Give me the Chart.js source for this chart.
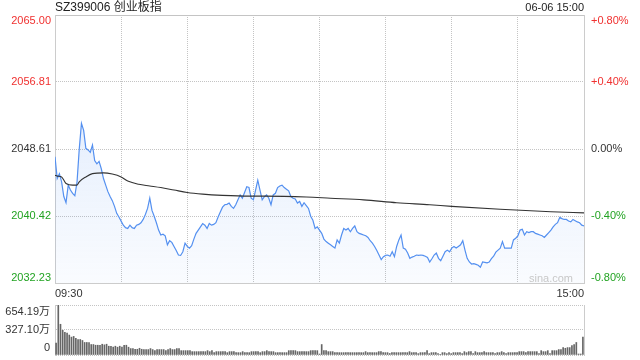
<!DOCTYPE html>
<html><head><meta charset="utf-8">
<script src="https://cdn.jsdelivr.net/npm/chart.js@4"></script>
<style>
html,body{margin:0;padding:0;background:#fff;}
#wrap{position:relative;width:640px;height:360px;overflow:hidden;}
canvas{position:absolute;left:0;}
#main{top:0;}
#vol{top:300px;}
</style></head><body>
<div id="wrap"><canvas id="main" width="640" height="300"></canvas><canvas id="vol" width="640" height="60"></canvas></div>
<script>
const titleText = 'SZ399006 创业板指';
const stampText = '06-06 15:00';
const watermark = 'sina.com';
const prevClose = 2048.61;
const priceTicks = [2032.23, 2040.42, 2048.61, 2056.81, 2065.00];
const pctLabels = ['-0.80%', '-0.40%', '0.00%', '+0.40%', '+0.80%'];
const timeTicks = [0, 30, 60, 90, 120, 150, 180, 210, 240];
const timeLabels = ['09:30', '10:00', '10:30', '11:00', '11:30', '13:30', '14:00', '14:30', '15:00'];

const prices = [
2047.67,2045.0,2045.6,2044.6,2042.8,2042.05,2044.2,2043.6,2043.2,2042.9,
2044.6,2048.6,2051.75,2050.9,2048.7,2048.5,2048.2,2049.1,2047.2,2046.8,
2047.1,2046.2,2045.0,2044.2,2043.4,2042.8,2042.3,2041.6,2040.75,2040.3,
2039.8,2039.3,2039.0,2038.9,2039.3,2039.0,2038.9,2039.3,2039.4,2039.6,
2040.0,2040.6,2041.35,2042.6,2041.1,2040.4,2039.6,2038.7,2038.1,2038.2,
2038.0,2036.9,2037.4,2037.2,2036.7,2036.2,2035.65,2035.6,2036.05,2037.1,
2036.7,2036.5,2036.8,2037.6,2038.3,2038.7,2039.1,2039.5,2039.3,2038.9,
2039.5,2039.3,2039.4,2039.6,2040.3,2040.9,2041.5,2041.8,2041.85,2042.0,
2041.6,2041.35,2041.8,2042.4,2043.0,2042.6,2043.3,2044.0,2043.9,2042.6,
2042.4,2043.6,2044.8,2043.6,2042.4,2042.8,2043.0,2042.6,2041.8,2043.0,
2043.2,2043.9,2044.1,2044.2,2043.9,2043.7,2043.5,2042.8,2042.6,2042.5,
2042.0,2042.2,2041.6,2042.05,2041.7,2041.35,2040.4,2039.9,2038.9,2039.1,
2038.7,2038.3,2037.6,2037.3,2037.1,2036.9,2036.7,2036.5,2037.5,2037.1,
2038.1,2038.9,2038.7,2038.9,2038.5,2038.9,2039.2,2038.5,2038.3,2038.2,
2038.1,2038.0,2037.8,2037.4,2037.1,2036.7,2036.2,2035.65,2035.1,2035.45,
2035.6,2035.65,2035.5,2036.05,2035.45,2036.7,2037.5,2038.1,2036.5,2036.35,
2035.9,2035.25,2035.4,2035.5,2035.65,2035.6,2035.65,2035.6,2035.5,2035.35,
2034.8,2035.2,2035.65,2035.9,2035.25,2034.95,2035.5,2036.05,2036.25,2036.05,
2036.5,2036.7,2036.5,2036.7,2036.9,2037.4,2036.25,2035.25,2034.8,2034.55,
2034.6,2034.5,2034.4,2034.15,2034.8,2034.75,2034.7,2034.8,2035.2,2035.5,
2036.0,2036.25,2036.5,2037.3,2036.5,2036.5,2036.5,2036.5,2037.5,2037.7,
2038.0,2038.7,2038.8,2038.1,2038.5,2038.4,2038.5,2038.5,2038.3,2038.2,
2038.1,2038.0,2037.8,2038.1,2038.4,2038.7,2039.1,2039.4,2039.6,2040.25,
2040.1,2040.0,2040.0,2039.8,2039.7,2040.0,2039.85,2039.7,2039.6,2039.3,
2039.2
];

const avgMinutes = [0,1,3,5,8,10,11,14,17,22,26,30,33,38,43,48,54,60,67,76,88,95,114,125,140,155,170,180,202,225,240];
const avgPrices = [2045.4,2045.3,2045.2,2044.4,2044.2,2044.2,2044.6,2045.2,2045.6,2045.7,2045.55,2045.2,2044.7,2044.3,2044.1,2043.9,2043.6,2043.3,2043.1,2042.95,2042.85,2042.85,2042.75,2042.6,2042.4,2042.05,2041.8,2041.6,2041.25,2040.95,2040.8];

const volumes = [
155,654.19,402,323,296,287,261,234,243,217,
203,203,190,164,164,164,137,137,128,128,
128,141,133,141,115,115,102,115,102,115,
102,128,128,102,84,84,75,75,88,75,
71,71,71,84,71,57,71,71,71,71,
57,71,84,71,71,84,84,57,57,57,
57,57,44,44,44,44,44,44,44,57,
44,57,31,44,44,44,44,44,31,44,
44,44,31,31,31,44,31,31,31,44,
44,44,44,31,44,44,57,44,44,44,
31,31,31,31,31,31,57,57,57,57,
44,44,44,44,44,44,57,57,57,57,
13,137,57,57,44,44,44,31,31,31,
31,31,31,31,31,31,31,31,31,31,
31,44,31,31,31,31,31,44,44,31,
31,31,20,31,31,31,31,31,31,31,
31,44,31,31,31,18,31,31,31,57,
18,31,31,31,18,8,31,31,18,31,
18,31,31,31,31,18,44,31,44,44,
18,44,31,31,31,44,31,31,31,31,
18,31,31,44,31,18,31,31,31,31,
31,44,44,44,31,44,44,44,44,44,
18,57,44,44,57,18,57,57,57,71,
71,97,88,97,97,124,137,164,13,13,
234
];
const volTicks = [0, 327.10, 654.19];
const volLabels = ['0', '327.10万', '654.19万'];

const FONT = "'Liberation Sans', 'Noto Sans CJK SC', Arial, sans-serif";
const UP = '#f0302f', DOWN = '#22a322', FLAT = '#333333';
const GRID = '#c4c4c4', FRAME = '#cccccc';
Chart.defaults.font.family = FONT;
Chart.defaults.font.size = 11;
Chart.defaults.color = '#333';

function edge(text, i, n) {
  if (i === 0) return [text, ''];
  if (i === n - 1) return ['', text];
  return text;
}
function tickColor(v) {
  if (Math.abs(v - prevClose) < 0.005) return FLAT;
  return v > prevClose ? UP : DOWN;
}
function noPad(s) { s.paddingTop = 0; s.paddingBottom = 0; }

const headerPlugin = {
  id: 'header',
  afterDraw(chart) {
    const { ctx, chartArea } = chart;
    ctx.save();
    ctx.textBaseline = 'middle';
    ctx.fillStyle = '#222';
    ctx.font = '12px ' + FONT;
    ctx.textAlign = 'left';
    ctx.fillText(titleText, chartArea.left, 8);
    ctx.font = '11px ' + FONT;
    ctx.textAlign = 'right';
    ctx.fillText(stampText, chartArea.right, 8);
    ctx.fillStyle = '#c8c8c8';
    ctx.font = '11px ' + FONT;
    ctx.fillText(watermark, chartArea.right - 11, chartArea.bottom - 4);
    ctx.restore();
  }
};

new Chart(document.getElementById('main'), {
  type: 'line',
  data: {
    datasets: [
      {
        label: 'avg',
        data: avgMinutes.map((m, k) => ({ x: m, y: avgPrices[k] })),
        borderColor: '#333',
        borderWidth: 1.1,
        pointRadius: 0,
        fill: false,
        cubicInterpolationMode: 'monotone',
        order: 1
      },
      {
        label: 'price',
        data: prices.map((p, i) => ({ x: i, y: p })),
        borderColor: '#5490f0',
        borderWidth: 1.2,
        pointRadius: 0,
        tension: 0,
        fill: 'start',
        backgroundColor: (c) => {
          const a = c.chart.chartArea;
          if (!a) return 'rgba(84,144,240,0.1)';
          const g = c.chart.ctx.createLinearGradient(0, a.top, 0, a.bottom);
          g.addColorStop(0, 'rgba(84,144,240,0.22)');
          g.addColorStop(1, 'rgba(84,144,240,0.03)');
          return g;
        },
        order: 2
      }
    ]
  },
  options: {
    responsive: false,
    animation: false,
    devicePixelRatio: 1,
    layout: { padding: { top: 15, left: 0, right: 0, bottom: 0 } },
    plugins: { legend: { display: false }, tooltip: { enabled: false } },
    scales: {
      x: {
        type: 'linear', min: 0, max: 240, offset: false,
        afterBuildTicks: s => { s.ticks = timeTicks.map(v => ({ value: v })); },
        afterFit: s => { s.height = 17; },
        grid: { color: GRID, drawTicks: false },
        border: { display: true, color: FRAME, dash: c => (c.index === 0 || c.index === timeTicks.length - 1) ? [] : [1, 1] },
        ticks: {
          align: 'inner', maxRotation: 0, autoSkip: false, padding: 4, color: '#333',
          callback: (v, i) => (i === 0 || i === timeTicks.length - 1) ? timeLabels[i] : ''
        }
      },
      y: {
        position: 'left', min: priceTicks[0], max: priceTicks[priceTicks.length - 1],
        afterBuildTicks: s => { s.ticks = priceTicks.map(v => ({ value: v })); },
        afterFit: s => { s.width = 55; noPad(s); },
        grid: { color: GRID, drawTicks: false },
        border: { display: true, color: FRAME, dash: c => (c.index === 0 || c.index === priceTicks.length - 1) ? [] : [1, 1] },
        ticks: {
          autoSkip: false, padding: 4, font: { size: 11, lineHeight: 1.0 },
          color: c => tickColor(priceTicks[c.index]),
          callback: (v, i) => edge(priceTicks[i].toFixed(2), i, priceTicks.length)
        }
      },
      y1: {
        position: 'right', min: priceTicks[0], max: priceTicks[priceTicks.length - 1],
        afterBuildTicks: s => { s.ticks = priceTicks.map(v => ({ value: v })); },
        afterFit: s => { s.width = 56; noPad(s); },
        grid: { display: false, drawTicks: false },
        border: { display: true, color: FRAME },
        ticks: {
          autoSkip: false, padding: 7, font: { size: 11, lineHeight: 1.0 },
          color: c => tickColor(priceTicks[c.index]),
          callback: (v, i) => edge(pctLabels[i], i, pctLabels.length)
        }
      }
    }
  },
  plugins: [headerPlugin]
});

new Chart(document.getElementById('vol'), {
  type: 'bar',
  data: {
    datasets: [{
      data: volumes.map((v, i) => ({ x: i, y: v })),
      backgroundColor: '#666',
      barThickness: 1,
      borderWidth: 0
    }]
  },
  options: {
    responsive: false,
    animation: false,
    devicePixelRatio: 1,
    layout: { padding: { top: 5, bottom: 5, left: 0, right: 0 } },
    plugins: { legend: { display: false }, tooltip: { enabled: false } },
    scales: {
      x: { type: 'linear', min: -0.5, max: 240.5, offset: false, display: false },
      y: {
        position: 'left', min: 0, max: volTicks[volTicks.length - 1],
        afterBuildTicks: s => { s.ticks = volTicks.map(v => ({ value: v })); },
        afterFit: s => { s.width = 55; noPad(s); },
        grid: { color: GRID, drawTicks: false },
        border: { display: true, color: FRAME, dash: [1, 1] },
        ticks: {
          autoSkip: false, padding: 5, font: { size: 11, lineHeight: 1.2 }, color: '#333',
          callback: (v, i) => edge(volLabels[i], i, volLabels.length)
        }
      },
      yr: {
        position: 'right',
        afterFit: s => { s.width = 56; noPad(s); },
        grid: { display: false, drawTicks: false },
        border: { display: true, color: FRAME },
        ticks: { display: false }
      }
    }
  }
});
</script>
</body></html>
